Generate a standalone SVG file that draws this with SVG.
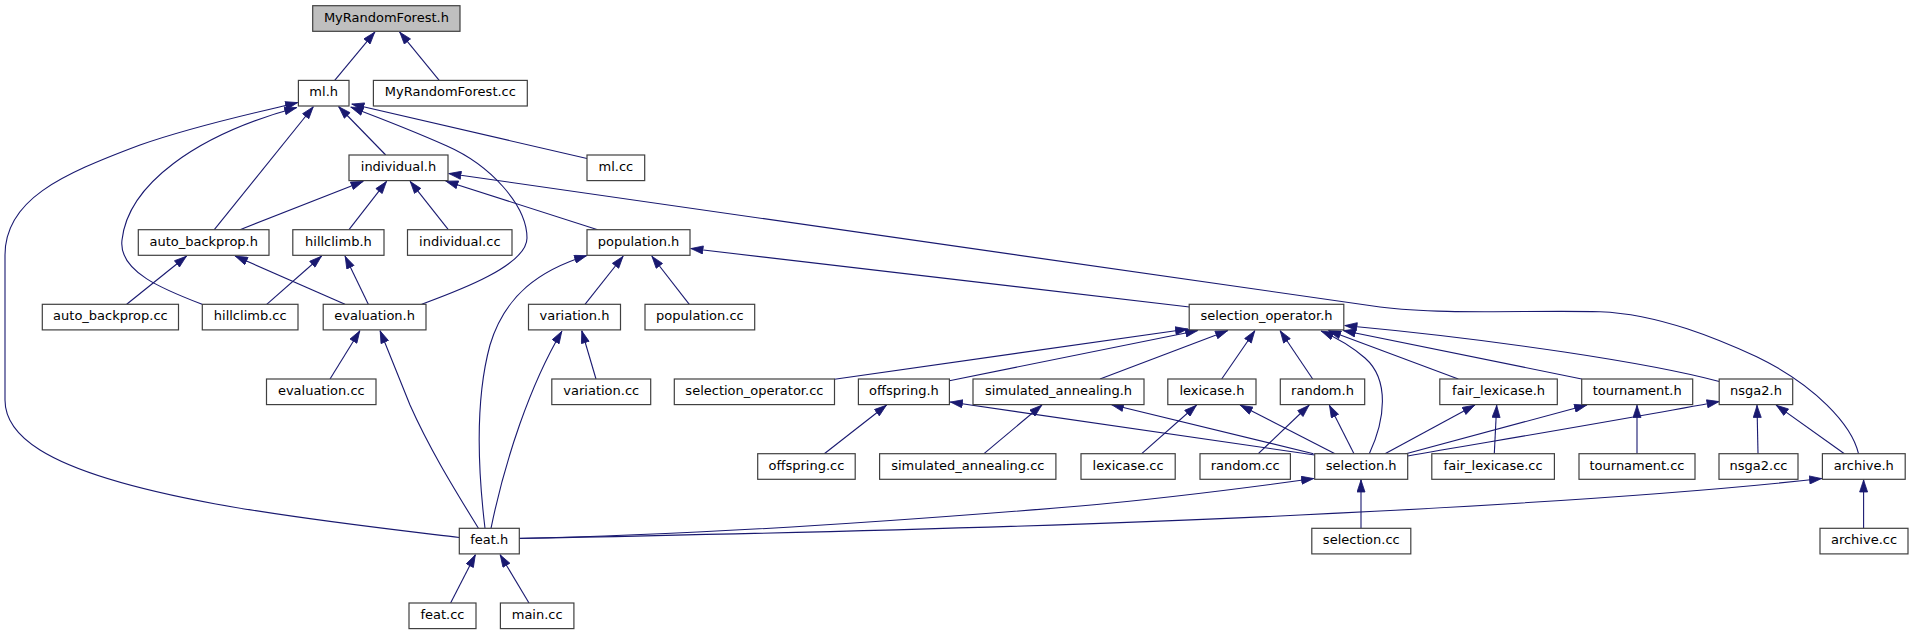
<svg xmlns="http://www.w3.org/2000/svg" width="1913" height="635" viewBox="0 0 1913 635">
<defs>
<marker id="arr" viewBox="0 0 13 9" refX="13" refY="4.5" markerWidth="13" markerHeight="9" markerUnits="userSpaceOnUse" orient="auto">
<path d="M0.5,0.5 L12.5,4.5 L0.5,8.5 z" fill="#191970" stroke="#191970" stroke-width="0.8"/>
</marker>
</defs>
<style>
.n rect{fill:#ffffff;stroke:#404040;stroke-width:1.2}
.n.root rect{fill:#bfbfbf}
.n text{font-family:"DejaVu Sans","Liberation Sans",sans-serif;font-size:13px;fill:#000000;text-anchor:middle}
#edges path{fill:none;stroke:#191970;stroke-width:1.1;marker-end:url(#arr)}
</style>
<rect width="1913" height="635" fill="#ffffff"/>
<g id="edges">
<path d="M334.7,80.4 L375,31.8"/>
<path d="M439.2,80.4 L399.5,31.8"/>
<path d="M385.7,155 L338.5,106.5"/>
<path d="M214.3,229.7 L313.5,106.5"/>
<path d="M202,304.3 C165,290 118,272 122,240 C128,185 195,135 297,107.5"/>
<path d="M421.7,304.3 C455,292 527,266 527,238 C527,205 490,165 447,146 C420,134 385,120 350.5,107"/>
<path d="M587,158.5 L351.5,104"/>
<path d="M459.3,537.5 C330,522 120,500 40,450 C8,430 5,410 5,400 L5,255 C5,200 60,175 140,145 C200,124 260,112 298,102.5"/>
<path d="M240,229.7 L363.5,181.2"/>
<path d="M349,229.7 L386.7,181.2"/>
<path d="M448.3,229.7 L410,181.2"/>
<path d="M597.7,229.7 L445.5,181"/>
<path d="M1858.5,453.7 C1852,425 1815,385 1756.7,356.7 C1720,340 1660,314 1600,311.7 C1530,310 1440,315 1380,307 L448.5,173.5"/>
<path d="M126.7,304.3 L186.7,256"/>
<path d="M345,304.3 L235,256"/>
<path d="M266.7,304.3 L321.7,256"/>
<path d="M368.3,304.3 L345,256"/>
<path d="M485,528.3 C478,470 475,400 490,345 C505,295 540,270 587,255.5"/>
<path d="M585,304.3 L623.3,256"/>
<path d="M689.3,304.3 L651.7,256"/>
<path d="M1189.5,307 L690.5,248.5"/>
<path d="M330,379 L360,330.5"/>
<path d="M478.4,528.3 C455,490 430,450 410,405 C398,375 388,350 380,330.5"/>
<path d="M596,379 L581.7,330.5"/>
<path d="M491,528.3 C505,460 530,385 562,331"/>
<path d="M834.5,379.2 L1188,329"/>
<path d="M949.4,380.7 L1198,330.5"/>
<path d="M1100,379 L1228,330.5"/>
<path d="M1221.7,379 L1255,330.5"/>
<path d="M1312.7,379 L1280,330.5"/>
<path d="M1369.3,453.7 C1385,420 1390,380 1365,358 C1350,345 1335,337 1321,331"/>
<path d="M1458.3,379 L1328.3,330.5"/>
<path d="M1581.7,379 L1343,330.5"/>
<path d="M1719.3,381.5 C1650,363 1500,340 1344.5,325.5"/>
<path d="M824.3,453.7 L886.7,405"/>
<path d="M1314.7,455 L950,402"/>
<path d="M984,453.7 L1042,405"/>
<path d="M1313.5,453.7 L1111,404.5"/>
<path d="M1141.7,453.7 L1196.7,405"/>
<path d="M1335,453.7 L1240,405"/>
<path d="M1258.3,453.7 L1309.3,405"/>
<path d="M1354,453.7 L1329.3,405"/>
<path d="M1385,453.7 L1475,405"/>
<path d="M1494.3,453.7 L1496.7,405"/>
<path d="M1405,454 L1587,405"/>
<path d="M1637,453.7 L1637,405"/>
<path d="M1407.7,456 C1500,440 1620,420 1719.5,401.5"/>
<path d="M1758,453.7 L1757,405"/>
<path d="M1844.4,453.7 L1776,405"/>
<path d="M519.3,538.3 C700,535 900,521 1080,506 C1180,497 1260,486 1314,478.5"/>
<path d="M1361,528.3 L1361,479.5"/>
<path d="M519.3,538.5 C800,533 1100,525 1300,515 C1550,503 1720,490 1822,478.5"/>
<path d="M1863.6,528.3 L1863.6,479.5"/>
<path d="M450.6,603 L475.5,554.5"/>
<path d="M529,603 L500,554.5"/>
</g>
<g id="MyRandomForest_h" class="n root"><rect x="312.7" y="5.7" width="147.3" height="25.6"/><text x="386.4" y="21.5">MyRandomForest.h</text></g>
<g id="ml_h" class="n"><rect x="298.4" y="80.4" width="50.6" height="25.6"/><text x="323.7" y="96.2">ml.h</text></g>
<g id="MyRandomForest_cc" class="n"><rect x="373.4" y="80.4" width="153.9" height="25.6"/><text x="450.4" y="96.2">MyRandomForest.cc</text></g>
<g id="individual_h" class="n"><rect x="349" y="155" width="99" height="25.6"/><text x="398.5" y="170.8">individual.h</text></g>
<g id="ml_cc" class="n"><rect x="587" y="155" width="57.7" height="25.6"/><text x="615.9" y="170.8">ml.cc</text></g>
<g id="auto_backprop_h" class="n"><rect x="138.3" y="229.7" width="130.7" height="25.6"/><text x="203.7" y="245.5">auto_backprop.h</text></g>
<g id="hillclimb_h" class="n"><rect x="292.8" y="229.7" width="91.2" height="25.6"/><text x="338.4" y="245.5">hillclimb.h</text></g>
<g id="individual_cc" class="n"><rect x="407.5" y="229.7" width="104.5" height="25.6"/><text x="459.8" y="245.5">individual.cc</text></g>
<g id="population_h" class="n"><rect x="587" y="229.7" width="103" height="25.6"/><text x="638.5" y="245.5">population.h</text></g>
<g id="auto_backprop_cc" class="n"><rect x="42.3" y="304.3" width="136.2" height="25.6"/><text x="110.4" y="320.1">auto_backprop.cc</text></g>
<g id="hillclimb_cc" class="n"><rect x="202.3" y="304.3" width="95.7" height="25.6"/><text x="250.2" y="320.1">hillclimb.cc</text></g>
<g id="evaluation_h" class="n"><rect x="323.2" y="304.3" width="102.8" height="25.6"/><text x="374.6" y="320.1">evaluation.h</text></g>
<g id="variation_h" class="n"><rect x="528.5" y="304.3" width="92" height="25.6"/><text x="574.5" y="320.1">variation.h</text></g>
<g id="population_cc" class="n"><rect x="645" y="304.3" width="109.7" height="25.6"/><text x="699.9" y="320.1">population.cc</text></g>
<g id="selection_operator_h" class="n"><rect x="1189.2" y="304.3" width="154.6" height="25.6"/><text x="1266.5" y="320.1">selection_operator.h</text></g>
<g id="evaluation_cc" class="n"><rect x="266.5" y="379" width="109.5" height="25.6"/><text x="321.3" y="394.8">evaluation.cc</text></g>
<g id="variation_cc" class="n"><rect x="551.8" y="379" width="98.9" height="25.6"/><text x="601.3" y="394.8">variation.cc</text></g>
<g id="selection_operator_cc" class="n"><rect x="674.3" y="379" width="160.2" height="25.6"/><text x="754.4" y="394.8">selection_operator.cc</text></g>
<g id="offspring_h" class="n"><rect x="858.4" y="379" width="91" height="25.6"/><text x="903.9" y="394.8">offspring.h</text></g>
<g id="simulated_annealing_h" class="n"><rect x="973" y="379" width="171" height="25.6"/><text x="1058.5" y="394.8">simulated_annealing.h</text></g>
<g id="lexicase_h" class="n"><rect x="1167.8" y="379" width="88.2" height="25.6"/><text x="1211.9" y="394.8">lexicase.h</text></g>
<g id="random_h" class="n"><rect x="1280.3" y="379" width="84.4" height="25.6"/><text x="1322.5" y="394.8">random.h</text></g>
<g id="fair_lexicase_h" class="n"><rect x="1439.8" y="379" width="117.5" height="25.6"/><text x="1498.6" y="394.8">fair_lexicase.h</text></g>
<g id="tournament_h" class="n"><rect x="1581.7" y="379" width="111" height="25.6"/><text x="1637.2" y="394.8">tournament.h</text></g>
<g id="nsga2_h" class="n"><rect x="1719.2" y="379" width="73.5" height="25.6"/><text x="1756" y="394.8">nsga2.h</text></g>
<g id="offspring_cc" class="n"><rect x="757.7" y="453.7" width="97.5" height="25.6"/><text x="806.5" y="469.5">offspring.cc</text></g>
<g id="simulated_annealing_cc" class="n"><rect x="879.6" y="453.7" width="176.3" height="25.6"/><text x="967.8" y="469.5">simulated_annealing.cc</text></g>
<g id="lexicase_cc" class="n"><rect x="1081" y="453.7" width="94.2" height="25.6"/><text x="1128.1" y="469.5">lexicase.cc</text></g>
<g id="random_cc" class="n"><rect x="1200" y="453.7" width="90.4" height="25.6"/><text x="1245.2" y="469.5">random.cc</text></g>
<g id="selection_h" class="n"><rect x="1314.7" y="453.7" width="93" height="25.6"/><text x="1361.2" y="469.5">selection.h</text></g>
<g id="fair_lexicase_cc" class="n"><rect x="1431.8" y="453.7" width="122.6" height="25.6"/><text x="1493.1" y="469.5">fair_lexicase.cc</text></g>
<g id="tournament_cc" class="n"><rect x="1579" y="453.7" width="116" height="25.6"/><text x="1637" y="469.5">tournament.cc</text></g>
<g id="nsga2_cc" class="n"><rect x="1719" y="453.7" width="79" height="25.6"/><text x="1758.5" y="469.5">nsga2.cc</text></g>
<g id="archive_h" class="n"><rect x="1822.4" y="453.7" width="82.8" height="25.6"/><text x="1863.8" y="469.5">archive.h</text></g>
<g id="feat_h" class="n"><rect x="459.3" y="528.3" width="60" height="25.6"/><text x="489.3" y="544.1">feat.h</text></g>
<g id="selection_cc" class="n"><rect x="1311.8" y="528.3" width="99" height="25.6"/><text x="1361.3" y="544.1">selection.cc</text></g>
<g id="archive_cc" class="n"><rect x="1820" y="528.3" width="88" height="25.6"/><text x="1864" y="544.1">archive.cc</text></g>
<g id="feat_cc" class="n"><rect x="409" y="603" width="67" height="25.6"/><text x="442.5" y="618.8">feat.cc</text></g>
<g id="main_cc" class="n"><rect x="500.4" y="603" width="73.5" height="25.6"/><text x="537.2" y="618.8">main.cc</text></g>
</svg>
